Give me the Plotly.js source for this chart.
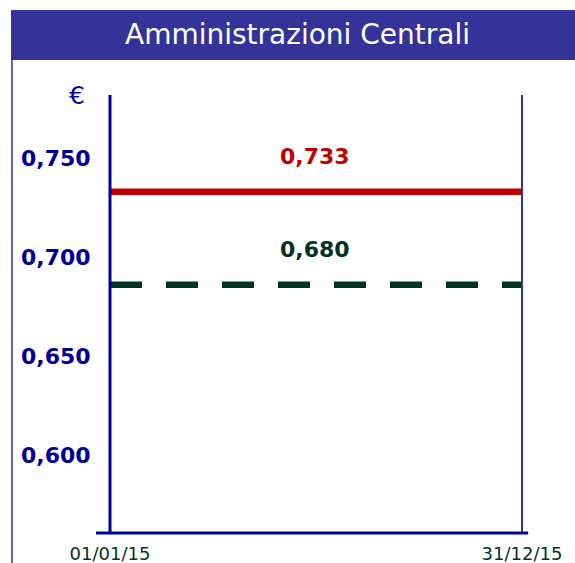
<!DOCTYPE html>
<html><head><meta charset="utf-8">
<script src="https://cdn.plot.ly/plotly-3.0.1.min.js"></script>
<style>html,body{margin:0;padding:0;background:#fff}#chart{width:575px;height:563px}</style>
</head><body><div id="chart"></div>
<script>
const dates = ['2015-01-01', '2015-12-31'];
const xTickText = ['01/01/15', '31/12/15'];
const seriesNames = ['Prezzo A', 'Prezzo B'];
const seriesLevels = [0.733, 0.686];
const seriesLabels = ['0,733', '0,680'];
const seriesColors = ['#c00000', '#003322'];
const seriesDash = ['solid', 'dash'];
const yTickVals = [0.600, 0.650, 0.700, 0.750];
const yTickText = ['0,600', '0,650', '0,700', '0,750'];
const yRange = [0.5606, 0.7818];
const chartTitle = 'Amministrazioni Centrali';
const unitLabel = '€';

const FONT = 'DejaVu Sans, Verdana, sans-serif';

const traces = seriesLevels.map((v, i) => ({
  x: dates,
  y: dates.map(() => v),
  type: 'scatter',
  mode: 'lines',
  name: seriesNames[i],
  line: {color: seriesColors[i], width: 6.5, dash: seriesDash[i] === 'dash' ? '32px,24px' : 'solid'},
  hoverinfo: 'skip'
}));

const annotations = seriesLevels.map((v, i) => ({
  xref: 'paper', yref: 'y', x: 0.497, y: v, yshift: 35,
  text: '<b>' + seriesLabels[i] + '</b>', showarrow: false,
  font: {family: FONT, size: 22, color: seriesColors[i]},
  xanchor: 'center', yanchor: 'middle'
}));
annotations.push({
  xref: 'paper', yref: 'paper', x: 0.5, y: 1.137,
  text: chartTitle, showarrow: false,
  font: {family: FONT, size: 28, color: '#ffffff'},
  xanchor: 'center', yanchor: 'middle', xshift: -19, yshift: 0
});
annotations.push({
  xref: 'paper', yref: 'paper', x: -0.08, y: 1.0,
  text: unitLabel, showarrow: false,
  font: {family: FONT, size: 25, color: '#000099'},
  xanchor: 'center', yanchor: 'middle'
});

const shapes = [
  // title bar
  {type: 'rect', xref: 'paper', yref: 'paper', x0: -0.2403, x1: 1.14, y0: 1.080, y1: 1.194,
   fillcolor: '#333399', line: {width: 0}, layer: 'below'},
  // left frame
  {type: 'line', xref: 'paper', yref: 'paper', x0: -0.2379, x1: -0.2379, y0: 1.080, y1: -0.1,
   line: {color: '#3333aa', width: 1.5}},
  // y axis line at start date
  {type: 'line', xref: 'paper', yref: 'paper', x0: 0, x1: 0, y0: 0, y1: 1,
   line: {color: '#000099', width: 3}},
  // right line at end date
  {type: 'line', xref: 'paper', yref: 'paper', x0: 1, x1: 1, y0: 0, y1: 1,
   line: {color: '#3333aa', width: 2}},
  // x axis baseline
  {type: 'line', xref: 'paper', yref: 'paper', x0: -0.034, x1: 1.015, y0: 0, y1: 0,
   line: {color: '#000099', width: 3}}
];

const layout = {
  width: 575, height: 563,
  margin: {l: 110, r: 53, t: 95, b: 30, pad: 0},
  paper_bgcolor: '#ffffff', plot_bgcolor: '#ffffff',
  showlegend: false,
  xaxis: {
    type: 'date', range: dates, tickvals: dates, ticktext: xTickText,
    showgrid: false, zeroline: false, showline: false,
    ticks: 'outside', ticklen: 4, tickcolor: 'rgba(0,0,0,0)',
    tickfont: {family: FONT, size: 18, color: '#003322'}, fixedrange: true
  },
  yaxis: {
    range: yRange, tickvals: yTickVals, ticktext: yTickText,
    showgrid: false, zeroline: false, showline: false,
    ticks: 'outside', ticklen: 14, tickcolor: 'rgba(0,0,0,0)',
    tickfont: {family: FONT, size: 22, color: '#000099', weight: 'bold'}, fixedrange: true
  },
  annotations: annotations,
  shapes: shapes
};

Plotly.newPlot('chart', traces, layout, {staticPlot: true, displayModeBar: false});
</script></body></html>
